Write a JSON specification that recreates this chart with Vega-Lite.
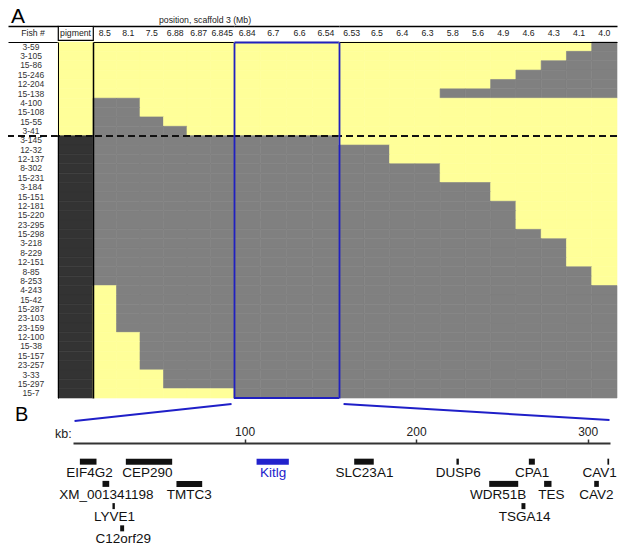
{
  "$schema": "https://vega.github.io/schema/vega-lite/v6.json",
  "padding": {"left": 7, "top": 6, "right": 0, "bottom": 0},
  "background": "white",
  "config": {"view": {"stroke": null}, "font": "Liberation Sans", "axis": {"grid": false}},
  "datasets": {
    "geno": [
      {"f":"3-59","p":"Y","m01":"Y","m02":"Y","m03":"Y","m04":"Y","m05":"Y","m06":"Y","m07":"Y","m08":"Y","m09":"Y","m10":"Y","m11":"Y","m12":"Y","m13":"Y","m14":"Y","m15":"Y","m16":"Y","m17":"Y","m18":"Y","m19":"Y","m20":"Y","m21":"G"},
      {"f":"3-105","p":"Y","m01":"Y","m02":"Y","m03":"Y","m04":"Y","m05":"Y","m06":"Y","m07":"Y","m08":"Y","m09":"Y","m10":"Y","m11":"Y","m12":"Y","m13":"Y","m14":"Y","m15":"Y","m16":"Y","m17":"Y","m18":"Y","m19":"Y","m20":"G","m21":"G"},
      {"f":"15-86","p":"Y","m01":"Y","m02":"Y","m03":"Y","m04":"Y","m05":"Y","m06":"Y","m07":"Y","m08":"Y","m09":"Y","m10":"Y","m11":"Y","m12":"Y","m13":"Y","m14":"Y","m15":"Y","m16":"Y","m17":"Y","m18":"Y","m19":"G","m20":"G","m21":"G"},
      {"f":"15-246","p":"Y","m01":"Y","m02":"Y","m03":"Y","m04":"Y","m05":"Y","m06":"Y","m07":"Y","m08":"Y","m09":"Y","m10":"Y","m11":"Y","m12":"Y","m13":"Y","m14":"Y","m15":"Y","m16":"Y","m17":"Y","m18":"G","m19":"G","m20":"G","m21":"G"},
      {"f":"12-204","p":"Y","m01":"Y","m02":"Y","m03":"Y","m04":"Y","m05":"Y","m06":"Y","m07":"Y","m08":"Y","m09":"Y","m10":"Y","m11":"Y","m12":"Y","m13":"Y","m14":"Y","m15":"Y","m16":"Y","m17":"G","m18":"G","m19":"G","m20":"G","m21":"G"},
      {"f":"15-138","p":"Y","m01":"Y","m02":"Y","m03":"Y","m04":"Y","m05":"Y","m06":"Y","m07":"Y","m08":"Y","m09":"Y","m10":"Y","m11":"Y","m12":"Y","m13":"Y","m14":"Y","m15":"G","m16":"G","m17":"G","m18":"G","m19":"G","m20":"G","m21":"G"},
      {"f":"4-100","p":"Y","m01":"G","m02":"G","m03":"Y","m04":"Y","m05":"Y","m06":"Y","m07":"Y","m08":"Y","m09":"Y","m10":"Y","m11":"Y","m12":"Y","m13":"Y","m14":"Y","m15":"Y","m16":"Y","m17":"Y","m18":"Y","m19":"Y","m20":"Y","m21":"Y"},
      {"f":"15-108","p":"Y","m01":"G","m02":"G","m03":"Y","m04":"Y","m05":"Y","m06":"Y","m07":"Y","m08":"Y","m09":"Y","m10":"Y","m11":"Y","m12":"Y","m13":"Y","m14":"Y","m15":"Y","m16":"Y","m17":"Y","m18":"Y","m19":"Y","m20":"Y","m21":"Y"},
      {"f":"15-55","p":"Y","m01":"G","m02":"G","m03":"G","m04":"Y","m05":"Y","m06":"Y","m07":"Y","m08":"Y","m09":"Y","m10":"Y","m11":"Y","m12":"Y","m13":"Y","m14":"Y","m15":"Y","m16":"Y","m17":"Y","m18":"Y","m19":"Y","m20":"Y","m21":"Y"},
      {"f":"3-41","p":"Y","m01":"G","m02":"G","m03":"G","m04":"G","m05":"Y","m06":"Y","m07":"Y","m08":"Y","m09":"Y","m10":"Y","m11":"Y","m12":"Y","m13":"Y","m14":"Y","m15":"Y","m16":"Y","m17":"Y","m18":"Y","m19":"Y","m20":"Y","m21":"Y"},
      {"f":"3-145","p":"D","m01":"G","m02":"G","m03":"G","m04":"G","m05":"G","m06":"G","m07":"G","m08":"G","m09":"G","m10":"G","m11":"Y","m12":"Y","m13":"Y","m14":"Y","m15":"Y","m16":"Y","m17":"Y","m18":"Y","m19":"Y","m20":"Y","m21":"Y"},
      {"f":"12-32","p":"D","m01":"G","m02":"G","m03":"G","m04":"G","m05":"G","m06":"G","m07":"G","m08":"G","m09":"G","m10":"G","m11":"G","m12":"G","m13":"Y","m14":"Y","m15":"Y","m16":"Y","m17":"Y","m18":"Y","m19":"Y","m20":"Y","m21":"Y"},
      {"f":"12-137","p":"D","m01":"G","m02":"G","m03":"G","m04":"G","m05":"G","m06":"G","m07":"G","m08":"G","m09":"G","m10":"G","m11":"G","m12":"G","m13":"Y","m14":"Y","m15":"Y","m16":"Y","m17":"Y","m18":"Y","m19":"Y","m20":"Y","m21":"Y"},
      {"f":"8-302","p":"D","m01":"G","m02":"G","m03":"G","m04":"G","m05":"G","m06":"G","m07":"G","m08":"G","m09":"G","m10":"G","m11":"G","m12":"G","m13":"G","m14":"G","m15":"Y","m16":"Y","m17":"Y","m18":"Y","m19":"Y","m20":"Y","m21":"Y"},
      {"f":"15-231","p":"D","m01":"G","m02":"G","m03":"G","m04":"G","m05":"G","m06":"G","m07":"G","m08":"G","m09":"G","m10":"G","m11":"G","m12":"G","m13":"G","m14":"G","m15":"Y","m16":"Y","m17":"Y","m18":"Y","m19":"Y","m20":"Y","m21":"Y"},
      {"f":"3-184","p":"D","m01":"G","m02":"G","m03":"G","m04":"G","m05":"G","m06":"G","m07":"G","m08":"G","m09":"G","m10":"G","m11":"G","m12":"G","m13":"G","m14":"G","m15":"G","m16":"G","m17":"Y","m18":"Y","m19":"Y","m20":"Y","m21":"Y"},
      {"f":"15-151","p":"D","m01":"G","m02":"G","m03":"G","m04":"G","m05":"G","m06":"G","m07":"G","m08":"G","m09":"G","m10":"G","m11":"G","m12":"G","m13":"G","m14":"G","m15":"G","m16":"G","m17":"Y","m18":"Y","m19":"Y","m20":"Y","m21":"Y"},
      {"f":"12-181","p":"D","m01":"G","m02":"G","m03":"G","m04":"G","m05":"G","m06":"G","m07":"G","m08":"G","m09":"G","m10":"G","m11":"G","m12":"G","m13":"G","m14":"G","m15":"G","m16":"G","m17":"G","m18":"Y","m19":"Y","m20":"Y","m21":"Y"},
      {"f":"15-220","p":"D","m01":"G","m02":"G","m03":"G","m04":"G","m05":"G","m06":"G","m07":"G","m08":"G","m09":"G","m10":"G","m11":"G","m12":"G","m13":"G","m14":"G","m15":"G","m16":"G","m17":"G","m18":"Y","m19":"Y","m20":"Y","m21":"Y"},
      {"f":"23-295","p":"D","m01":"G","m02":"G","m03":"G","m04":"G","m05":"G","m06":"G","m07":"G","m08":"G","m09":"G","m10":"G","m11":"G","m12":"G","m13":"G","m14":"G","m15":"G","m16":"G","m17":"G","m18":"Y","m19":"Y","m20":"Y","m21":"Y"},
      {"f":"15-298","p":"D","m01":"G","m02":"G","m03":"G","m04":"G","m05":"G","m06":"G","m07":"G","m08":"G","m09":"G","m10":"G","m11":"G","m12":"G","m13":"G","m14":"G","m15":"G","m16":"G","m17":"G","m18":"G","m19":"Y","m20":"Y","m21":"Y"},
      {"f":"3-218","p":"D","m01":"G","m02":"G","m03":"G","m04":"G","m05":"G","m06":"G","m07":"G","m08":"G","m09":"G","m10":"G","m11":"G","m12":"G","m13":"G","m14":"G","m15":"G","m16":"G","m17":"G","m18":"G","m19":"G","m20":"Y","m21":"Y"},
      {"f":"8-229","p":"D","m01":"G","m02":"G","m03":"G","m04":"G","m05":"G","m06":"G","m07":"G","m08":"G","m09":"G","m10":"G","m11":"G","m12":"G","m13":"G","m14":"G","m15":"G","m16":"G","m17":"G","m18":"G","m19":"G","m20":"Y","m21":"Y"},
      {"f":"12-151","p":"D","m01":"G","m02":"G","m03":"G","m04":"G","m05":"G","m06":"G","m07":"G","m08":"G","m09":"G","m10":"G","m11":"G","m12":"G","m13":"G","m14":"G","m15":"G","m16":"G","m17":"G","m18":"G","m19":"G","m20":"Y","m21":"Y"},
      {"f":"8-85","p":"D","m01":"G","m02":"G","m03":"G","m04":"G","m05":"G","m06":"G","m07":"G","m08":"G","m09":"G","m10":"G","m11":"G","m12":"G","m13":"G","m14":"G","m15":"G","m16":"G","m17":"G","m18":"G","m19":"G","m20":"G","m21":"Y"},
      {"f":"8-253","p":"D","m01":"G","m02":"G","m03":"G","m04":"G","m05":"G","m06":"G","m07":"G","m08":"G","m09":"G","m10":"G","m11":"G","m12":"G","m13":"G","m14":"G","m15":"G","m16":"G","m17":"G","m18":"G","m19":"G","m20":"G","m21":"Y"},
      {"f":"4-243","p":"D","m01":"Y","m02":"G","m03":"G","m04":"G","m05":"G","m06":"G","m07":"G","m08":"G","m09":"G","m10":"G","m11":"G","m12":"G","m13":"G","m14":"G","m15":"G","m16":"G","m17":"G","m18":"G","m19":"G","m20":"G","m21":"G"},
      {"f":"15-42","p":"D","m01":"Y","m02":"G","m03":"G","m04":"G","m05":"G","m06":"G","m07":"G","m08":"G","m09":"G","m10":"G","m11":"G","m12":"G","m13":"G","m14":"G","m15":"G","m16":"G","m17":"G","m18":"G","m19":"G","m20":"G","m21":"G"},
      {"f":"15-287","p":"D","m01":"Y","m02":"G","m03":"G","m04":"G","m05":"G","m06":"G","m07":"G","m08":"G","m09":"G","m10":"G","m11":"G","m12":"G","m13":"G","m14":"G","m15":"G","m16":"G","m17":"G","m18":"G","m19":"G","m20":"G","m21":"G"},
      {"f":"23-103","p":"D","m01":"Y","m02":"G","m03":"G","m04":"G","m05":"G","m06":"G","m07":"G","m08":"G","m09":"G","m10":"G","m11":"G","m12":"G","m13":"G","m14":"G","m15":"G","m16":"G","m17":"G","m18":"G","m19":"G","m20":"G","m21":"G"},
      {"f":"23-159","p":"D","m01":"Y","m02":"G","m03":"G","m04":"G","m05":"G","m06":"G","m07":"G","m08":"G","m09":"G","m10":"G","m11":"G","m12":"G","m13":"G","m14":"G","m15":"G","m16":"G","m17":"G","m18":"G","m19":"G","m20":"G","m21":"G"},
      {"f":"12-100","p":"D","m01":"Y","m02":"Y","m03":"G","m04":"G","m05":"G","m06":"G","m07":"G","m08":"G","m09":"G","m10":"G","m11":"G","m12":"G","m13":"G","m14":"G","m15":"G","m16":"G","m17":"G","m18":"G","m19":"G","m20":"G","m21":"G"},
      {"f":"15-38","p":"D","m01":"Y","m02":"Y","m03":"G","m04":"G","m05":"G","m06":"G","m07":"G","m08":"G","m09":"G","m10":"G","m11":"G","m12":"G","m13":"G","m14":"G","m15":"G","m16":"G","m17":"G","m18":"G","m19":"G","m20":"G","m21":"G"},
      {"f":"15-157","p":"D","m01":"Y","m02":"Y","m03":"G","m04":"G","m05":"G","m06":"G","m07":"G","m08":"G","m09":"G","m10":"G","m11":"G","m12":"G","m13":"G","m14":"G","m15":"G","m16":"G","m17":"G","m18":"G","m19":"G","m20":"G","m21":"G"},
      {"f":"23-257","p":"D","m01":"Y","m02":"Y","m03":"G","m04":"G","m05":"G","m06":"G","m07":"G","m08":"G","m09":"G","m10":"G","m11":"G","m12":"G","m13":"G","m14":"G","m15":"G","m16":"G","m17":"G","m18":"G","m19":"G","m20":"G","m21":"G"},
      {"f":"3-33","p":"D","m01":"Y","m02":"Y","m03":"Y","m04":"G","m05":"G","m06":"G","m07":"G","m08":"G","m09":"G","m10":"G","m11":"G","m12":"G","m13":"G","m14":"G","m15":"G","m16":"G","m17":"G","m18":"G","m19":"G","m20":"G","m21":"G"},
      {"f":"15-297","p":"D","m01":"Y","m02":"Y","m03":"Y","m04":"G","m05":"G","m06":"G","m07":"G","m08":"G","m09":"G","m10":"G","m11":"G","m12":"G","m13":"G","m14":"G","m15":"G","m16":"G","m17":"G","m18":"G","m19":"G","m20":"G","m21":"G"},
      {"f":"15-7","p":"D","m01":"Y","m02":"Y","m03":"Y","m04":"Y","m05":"Y","m06":"Y","m07":"G","m08":"G","m09":"G","m10":"G","m11":"G","m12":"G","m13":"G","m14":"G","m15":"G","m16":"G","m17":"G","m18":"G","m19":"G","m20":"G","m21":"G"}
    ],
    "genes": [
      {"gene":"EIF4G2","start":4.0,"end":13.7,"lane":"1","lx":9.6,"kind":"gene"},
      {"gene":"CEP290","start":30.8,"end":57.8,"lane":"1","lx":43.4,"kind":"gene"},
      {"gene":"Kitlg","start":107.0,"end":125.8,"lane":"1","lx":116.7,"kind":"kitlg"},
      {"gene":"SLC23A1","start":163.9,"end":175.3,"lane":"1","lx":169.9,"kind":"gene"},
      {"gene":"DUSP6","start":223.5,"end":224.9,"lane":"1","lx":224.5,"kind":"gene"},
      {"gene":"CPA1","start":265.7,"end":269.2,"lane":"1","lx":267.6,"kind":"gene"},
      {"gene":"CAV1","start":311.5,"end":312.5,"lane":"1","lx":306.9,"kind":"gene"},
      {"gene":"XM_001341198","start":17.2,"end":21.1,"lane":"2","lx":19.5,"kind":"predicted"},
      {"gene":"TMTC3","start":60.3,"end":75.3,"lane":"2","lx":67.7,"kind":"gene"},
      {"gene":"WDR51B","start":242.6,"end":259.5,"lane":"2","lx":247.8,"kind":"gene"},
      {"gene":"TES","start":274.6,"end":278.9,"lane":"2","lx":278.9,"kind":"gene"},
      {"gene":"CAV2","start":303.8,"end":306.5,"lane":"2","lx":305.1,"kind":"gene"},
      {"gene":"LYVE1","start":23.0,"end":24.4,"lane":"3","lx":24.2,"kind":"gene"},
      {"gene":"TSGA14","start":261.4,"end":263.7,"lane":"3","lx":263.2,"kind":"gene"},
      {"gene":"C12orf29","start":27.5,"end":29.8,"lane":"4","lx":29.3,"kind":"gene"}
    ],
    "zoomlines": [
      {"side":"L","kb":92.4,"yy":0.91},
      {"side":"L","kb":0.9,"yy":0.14},
      {"side":"R","kb":157.7,"yy":0.91},
      {"side":"R","kb":312.7,"yy":0.18}
    ]
  },
  "spacing": 0,
  "vconcat": [
    {
      "spacing": 0,
      "bounds": "flush",
      "hconcat": [
        {
          "width": 50, "height": 14,
          "title": {"text": "A", "anchor": "start", "dx": 3, "offset": -18, "fontSize": 21, "fontWeight": "normal", "baseline": "alphabetic", "color": "#000"},
          "data": {"values": [{"h": "Fish #"}]},
          "mark": {"type": "text", "fontSize": 8.7, "color": "#222"},
          "encoding": {
            "x": {"field": "h", "type": "nominal", "axis": {"orient": "top", "domain": true, "domainColor": "#000", "domainWidth": 1.5, "ticks": false, "labels": false, "title": null, "grid": false}},
            "text": {"field": "h"}
          }
        },
        {
          "width": 35, "height": 14,
          "view": {"stroke": "#000", "strokeWidth": 1.2},
          "data": {"values": [{"h": "pigment"}]},
          "mark": {"type": "text", "fontSize": 8.7, "color": "#222"},
          "encoding": {"text": {"field": "h"}}
        },
        {
          "width": 141, "height": 14,
          "title": {"text": "position, scaffold 3 (Mb)", "anchor": "start", "dx": 66, "offset": -6, "fontSize": 8.7, "fontWeight": "normal", "baseline": "alphabetic", "color": "#222"},
          "data": {"values": [{"m": "8.5"}, {"m": "8.1"}, {"m": "7.5"}, {"m": "6.88"}, {"m": "6.87"}, {"m": "6.845"}]},
          "mark": {"type": "text", "fontSize": 8.7, "color": "#222"},
          "encoding": {
            "x": {"field": "m", "type": "nominal", "sort": null, "axis": {"orient": "top", "domain": true, "domainColor": "#000", "domainWidth": 1.5, "ticks": false, "labels": false, "title": null, "grid": false}},
            "text": {"field": "m"}
          }
        },
        {
          "width": 105, "height": 14,
          "data": {"values": [{"m": "6.84"}, {"m": "6.7"}, {"m": "6.6"}, {"m": "6.54"}]},
          "mark": {"type": "text", "fontSize": 8.7, "color": "#222"},
          "encoding": {
            "x": {"field": "m", "type": "nominal", "sort": null, "axis": {"orient": "top", "domain": true, "domainColor": "#000", "domainWidth": 1.5, "ticks": false, "labels": false, "title": null, "grid": false}},
            "text": {"field": "m"}
          }
        },
        {
          "width": 278, "height": 14,
          "data": {"values": [{"m": "6.53"}, {"m": "6.5"}, {"m": "6.4"}, {"m": "6.3"}, {"m": "5.8"}, {"m": "5.6"}, {"m": "4.9"}, {"m": "4.6"}, {"m": "4.3"}, {"m": "4.1"}, {"m": "4.0"}]},
          "mark": {"type": "text", "fontSize": 8.7, "color": "#222"},
          "encoding": {
            "x": {"field": "m", "type": "nominal", "sort": null, "axis": {"orient": "top", "domain": true, "domainColor": "#000", "domainWidth": 1.5, "ticks": false, "labels": false, "title": null, "grid": false}},
            "text": {"field": "m"}
          }
        }
      ]
    },
    {
      "spacing": 0,
      "bounds": "flush",
      "hconcat": [
        {
          "width": 50, "height": 356,
          "data": {"name": "geno"},
          "layer": [
            {
              "mark": {"type": "text", "fontSize": 8.5, "color": "#333", "dx": -2},
              "encoding": {
                "x": {"datum": "Fish #", "type": "nominal", "axis": {"orient": "top", "domain": true, "domainColor": "#000", "domainWidth": 1, "ticks": false, "labels": false, "title": null, "grid": false, "zindex": 1}},
                "y": {"field": "f", "type": "nominal", "scale": {"domain": ["3-59","3-105","15-86","15-246","12-204","15-138","4-100","15-108","15-55","3-41","3-145","12-32","12-137","8-302","15-231","3-184","15-151","12-181","15-220","23-295","15-298","3-218","8-229","12-151","8-85","8-253","4-243","15-42","15-287","23-103","23-159","12-100","15-38","15-157","23-257","3-33","15-297","15-7"], "paddingInner": 0, "paddingOuter": 0}, "axis": null},
                "text": {"field": "f"}
              }
            },
            {
              "mark": {"type": "rule", "strokeDash": [7, 4], "strokeWidth": 1.4, "color": "#111"},
              "encoding": {"y": {"datum": "3-145", "type": "nominal", "bandPosition": 0, "axis": null}}
            }
          ]
        },
        {
          "width": 35, "height": 356,
          "data": {"name": "geno"},
          "layer": [
            {
              "mark": {"type": "rect", "strokeWidth": 0.6},
              "encoding": {
                "y": {"field": "f", "type": "nominal", "scale": {"domain": ["3-59","3-105","15-86","15-246","12-204","15-138","4-100","15-108","15-55","3-41","3-145","12-32","12-137","8-302","15-231","3-184","15-151","12-181","15-220","23-295","15-298","3-218","8-229","12-151","8-85","8-253","4-243","15-42","15-287","23-103","23-159","12-100","15-38","15-157","23-257","3-33","15-297","15-7"], "paddingInner": 0, "paddingOuter": 0}, "axis": {"orient": "left", "domain": true, "domainColor": "#000", "domainWidth": 1, "ticks": false, "labels": false, "title": null, "grid": false, "zindex": 1}},
                "color": {"field": "p", "type": "nominal", "scale": {"domain": ["Y","G","D","gene","kitlg","predicted"], "range": ["#ffff99","#808080","#333333","#111111","#2222cc","#111111"]}, "legend": null},
                "stroke": {"field": "p", "type": "nominal", "scale": {"domain": ["Y","G","D","gene","kitlg","predicted"], "range": ["#ffff99","#808080","#333333","#111111","#2222cc","#111111"]}, "legend": null}
              }
            },
            {
              "mark": {"type": "rule", "strokeDash": [7, 4], "strokeWidth": 1.4, "color": "#111"},
              "encoding": {"y": {"datum": "3-145", "type": "nominal", "bandPosition": 0, "axis": {"orient": "left", "domain": true, "domainColor": "#000", "domainWidth": 1, "ticks": false, "labels": false, "title": null, "grid": false, "zindex": 1}}}
            }
          ]
        },
        {
          "width": 141, "height": 356,
          "data": {"name": "geno"},
          "transform": [{"fold": ["m01","m02","m03","m04","m05","m06"], "as": ["mk", "g"]}],
          "layer": [
            {
              "mark": {"type": "rect", "strokeWidth": 0.6},
              "encoding": {
                "x": {"field": "mk", "type": "nominal", "scale": {"domain": ["m01","m02","m03","m04","m05","m06"], "paddingInner": 0, "paddingOuter": 0}, "axis": {"orient": "top", "domain": true, "domainColor": "#000", "domainWidth": 1, "ticks": false, "labels": false, "title": null, "grid": false, "zindex": 1}},
                "y": {"field": "f", "type": "nominal", "scale": {"domain": ["3-59","3-105","15-86","15-246","12-204","15-138","4-100","15-108","15-55","3-41","3-145","12-32","12-137","8-302","15-231","3-184","15-151","12-181","15-220","23-295","15-298","3-218","8-229","12-151","8-85","8-253","4-243","15-42","15-287","23-103","23-159","12-100","15-38","15-157","23-257","3-33","15-297","15-7"], "paddingInner": 0, "paddingOuter": 0}, "axis": {"orient": "left", "domain": true, "domainColor": "#000", "domainWidth": 1.5, "ticks": false, "labels": false, "title": null, "grid": false, "zindex": 1}},
                "color": {"field": "g", "type": "nominal", "scale": {"domain": ["Y","G","D","gene","kitlg","predicted"], "range": ["#ffff99","#808080","#333333","#111111","#2222cc","#111111"]}, "legend": null},
                "stroke": {"field": "g", "type": "nominal", "scale": {"domain": ["Y","G","D","gene","kitlg","predicted"], "range": ["#ffff99","#808080","#333333","#111111","#2222cc","#111111"]}, "legend": null}
              }
            },
            {
              "mark": {"type": "rule", "strokeDash": [7, 4], "strokeWidth": 1.4, "color": "#111"},
              "encoding": {"y": {"datum": "3-145", "type": "nominal", "bandPosition": 0, "axis": {"orient": "left", "domain": true, "domainColor": "#000", "domainWidth": 1.5, "ticks": false, "labels": false, "title": null, "grid": false, "zindex": 1}}}
            }
          ]
        },
        {
          "width": 105, "height": 356,
          "data": {"name": "geno"},
          "transform": [{"fold": ["m07","m08","m09","m10"], "as": ["mk", "g"]}],
          "layer": [
            {
              "mark": {"type": "rect", "strokeWidth": 0.6},
              "encoding": {
                "x": {"field": "mk", "type": "nominal", "scale": {"domain": ["m07","m08","m09","m10"], "paddingInner": 0, "paddingOuter": 0}, "axis": {"orient": "top", "domain": true, "domainColor": "#2020c0", "domainWidth": 1.8, "ticks": false, "labels": false, "title": null, "grid": false, "zindex": 1}},
                "y": {"field": "f", "type": "nominal", "scale": {"domain": ["3-59","3-105","15-86","15-246","12-204","15-138","4-100","15-108","15-55","3-41","3-145","12-32","12-137","8-302","15-231","3-184","15-151","12-181","15-220","23-295","15-298","3-218","8-229","12-151","8-85","8-253","4-243","15-42","15-287","23-103","23-159","12-100","15-38","15-157","23-257","3-33","15-297","15-7"], "paddingInner": 0, "paddingOuter": 0}, "axis": {"orient": "left", "domain": true, "domainColor": "#2020c0", "domainWidth": 1.8, "ticks": false, "labels": false, "title": null, "grid": false, "zindex": 1}},
                "color": {"field": "g", "type": "nominal", "scale": {"domain": ["Y","G","D","gene","kitlg","predicted"], "range": ["#ffff99","#808080","#333333","#111111","#2222cc","#111111"]}, "legend": null},
                "stroke": {"field": "g", "type": "nominal", "scale": {"domain": ["Y","G","D","gene","kitlg","predicted"], "range": ["#ffff99","#808080","#333333","#111111","#2222cc","#111111"]}, "legend": null}
              }
            },
            {
              "mark": {"type": "rule", "strokeDash": [7, 4], "strokeWidth": 1.4, "color": "#111"},
              "encoding": {"y": {"datum": "3-145", "type": "nominal", "bandPosition": 0, "axis": {"orient": "left", "domain": true, "domainColor": "#2020c0", "domainWidth": 1.8, "ticks": false, "labels": false, "title": null, "grid": false, "zindex": 1}}}
            },
            {
              "mark": {"type": "rule", "strokeWidth": 1.8, "color": "#2020c0"},
              "encoding": {"y": {"datum": "15-7", "type": "nominal", "bandPosition": 1, "axis": {"orient": "left", "domain": true, "domainColor": "#2020c0", "domainWidth": 1.8, "ticks": false, "labels": false, "title": null, "grid": false, "zindex": 1}}}
            }
          ]
        },
        {
          "width": 278, "height": 356,
          "data": {"name": "geno"},
          "transform": [{"fold": ["m11","m12","m13","m14","m15","m16","m17","m18","m19","m20","m21"], "as": ["mk", "g"]}],
          "layer": [
            {
              "mark": {"type": "rect", "strokeWidth": 0.6},
              "encoding": {
                "x": {"field": "mk", "type": "nominal", "scale": {"domain": ["m11","m12","m13","m14","m15","m16","m17","m18","m19","m20","m21"], "paddingInner": 0, "paddingOuter": 0}, "axis": {"orient": "top", "domain": true, "domainColor": "#000", "domainWidth": 1, "ticks": false, "labels": false, "title": null, "grid": false, "zindex": 1}},
                "y": {"field": "f", "type": "nominal", "scale": {"domain": ["3-59","3-105","15-86","15-246","12-204","15-138","4-100","15-108","15-55","3-41","3-145","12-32","12-137","8-302","15-231","3-184","15-151","12-181","15-220","23-295","15-298","3-218","8-229","12-151","8-85","8-253","4-243","15-42","15-287","23-103","23-159","12-100","15-38","15-157","23-257","3-33","15-297","15-7"], "paddingInner": 0, "paddingOuter": 0}, "axis": {"orient": "left", "domain": true, "domainColor": "#2020c0", "domainWidth": 1.8, "ticks": false, "labels": false, "title": null, "grid": false, "zindex": 1}},
                "color": {"field": "g", "type": "nominal", "scale": {"domain": ["Y","G","D","gene","kitlg","predicted"], "range": ["#ffff99","#808080","#333333","#111111","#2222cc","#111111"]}, "legend": null},
                "stroke": {"field": "g", "type": "nominal", "scale": {"domain": ["Y","G","D","gene","kitlg","predicted"], "range": ["#ffff99","#808080","#333333","#111111","#2222cc","#111111"]}, "legend": null}
              }
            },
            {
              "mark": {"type": "rule", "strokeDash": [7, 4], "strokeWidth": 1.4, "color": "#111"},
              "encoding": {"y": {"datum": "3-145", "type": "nominal", "bandPosition": 0, "axis": {"orient": "left", "domain": true, "domainColor": "#2020c0", "domainWidth": 1.8, "ticks": false, "labels": false, "title": null, "grid": false, "zindex": 1}}}
            }
          ]
        }
      ]
    },
    {
      "spacing": 0,
      "bounds": "flush",
      "hconcat": [
        {
          "width": 64.5, "height": 22,
          "data": {"values": [{"t": ""}]},
          "mark": {"type": "text"},
          "encoding": {"text": {"field": "t"}}
        },
        {
          "width": 537, "height": 22,
          "data": {"name": "zoomlines"},
          "mark": {"type": "line", "color": "#1f1fc8", "strokeWidth": 2},
          "encoding": {
            "x": {"field": "kb", "type": "quantitative", "scale": {"domain": [0, 313], "nice": false, "zero": false}, "axis": null},
            "y": {"field": "yy", "type": "quantitative", "scale": {"domain": [0, 1], "nice": false, "zero": false}, "axis": {"orient": "left", "domain": false, "ticks": false, "labels": false, "grid": false, "title": "B", "titleX": -58.5, "titleY": 18.5, "titleAngle": 0, "titleAlign": "left", "titleBaseline": "alphabetic", "titleFontSize": 20, "titleFontWeight": "normal", "titleColor": "#000"}},
            "detail": {"field": "side"}
          }
        }
      ]
    },
    {
      "spacing": 0,
      "bounds": "flush",
      "hconcat": [
        {
          "width": 64.5, "height": 104,
          "data": {"values": [{"t": ""}]},
          "mark": {"type": "text"},
          "encoding": {"text": {"field": "t"}}
        },
        {
          "width": 537, "height": 104,
          "data": {"name": "genes"},
          "layer": [
            {
              "mark": {"type": "bar", "height": 6},
              "encoding": {
                "x": {"field": "start", "type": "quantitative", "scale": {"domain": [0, 313], "nice": false, "zero": false}, "axis": {"orient": "top", "values": [100, 200, 300], "domain": true, "domainColor": "#333", "domainWidth": 1.8, "ticks": true, "tickColor": "#333", "tickWidth": 1.5, "tickSize": 4, "labels": true, "labelFontSize": 12, "labelColor": "#222", "labelPadding": 1, "labelFlush": false, "grid": false, "title": "kb:", "titleX": -18.5, "titleY": -6, "titleAlign": "left", "titleBaseline": "alphabetic", "titleFontSize": 12.5, "titleFontWeight": "normal", "titleColor": "#222", "titleAngle": 0}},
                "x2": {"field": "end"},
                "y": {"field": "lane", "type": "nominal", "scale": {"domain": ["1","2","3","4"], "paddingInner": 0, "paddingOuter": 0.34}, "axis": null},
                "color": {"field": "kind", "type": "nominal", "scale": {"domain": ["Y","G","D","gene","kitlg","predicted"], "range": ["#ffff99","#808080","#333333","#111111","#2222cc","#111111"]}, "legend": null}
              }
            },
            {
              "mark": {"type": "text", "baseline": "alphabetic", "dy": 15},
              "encoding": {
                "x": {"field": "lx", "type": "quantitative", "axis": {"orient": "top", "values": [100, 200, 300], "domain": true, "domainColor": "#333", "domainWidth": 1.8, "ticks": true, "tickColor": "#333", "tickWidth": 1.5, "tickSize": 4, "labels": true, "labelFontSize": 12, "labelColor": "#222", "labelPadding": 1, "labelFlush": false, "grid": false, "title": "kb:", "titleX": -18.5, "titleY": -6, "titleAlign": "left", "titleBaseline": "alphabetic", "titleFontSize": 12.5, "titleFontWeight": "normal", "titleColor": "#222", "titleAngle": 0}},
                "y": {"field": "lane", "type": "nominal", "axis": null},
                "text": {"field": "gene"},
                "color": {"field": "kind", "type": "nominal", "scale": {"domain": ["Y","G","D","gene","kitlg","predicted"], "range": ["#ffff99","#808080","#333333","#111111","#2222cc","#111111"]}, "legend": null},
                "size": {"field": "kind", "type": "nominal", "scale": {"domain": ["gene","kitlg","predicted"], "range": [13.5, 13.5, 11.5]}, "legend": null}
              }
            }
          ]
        }
      ]
    }
  ]
}
